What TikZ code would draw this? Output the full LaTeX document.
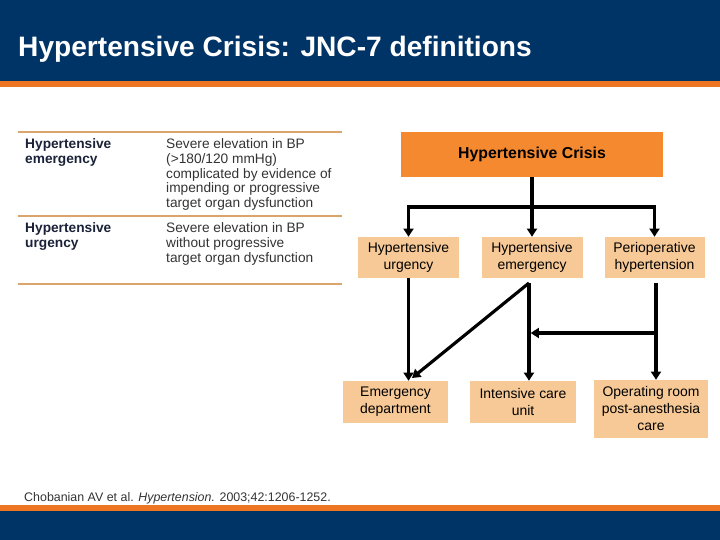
\documentclass[tikz,border=0pt]{standalone}
\usepackage{fontspec}
\setmainfont{Liberation Sans}
\usepackage{xcolor}
\definecolor{hdrblue}{HTML}{003366}
\definecolor{stripe}{HTML}{EE7623}
\definecolor{crisisorange}{HTML}{F5892F}
\definecolor{tan}{HTML}{F7C996}
\definecolor{rulecol}{HTML}{DBA46B}
\definecolor{bodytext}{HTML}{333333}
\definecolor{termtext}{HTML}{1A2238}
\usetikzlibrary{arrows.meta}

\begin{document}
\begin{tikzpicture}[
    x=0.03cm, y=-0.03cm,
    crisis/.style={fill=crisisorange, minimum width=7.86cm, minimum height=1.35cm, align=center, inner sep=0pt, font=\fontsize{13.5}{15}\selectfont\bfseries},
    site/.style={fill=tan, minimum height=1.23cm, align=center, inner sep=0pt, font=\fontsize{11.9}{14.5}\selectfont},
    term/.style={anchor=north west, inner sep=0pt, align=left, text=termtext, font=\fontsize{11.7}{12.75}\selectfont\bfseries},
    defn/.style={anchor=north west, inner sep=0pt, align=left, text=bodytext, font=\fontsize{11.7}{12.75}\selectfont},
    arr/.style={-{Triangle[width=8.5pt,length=7pt]}, line width=2.7pt},
    lnk/.style={line width=2.7pt},
    trule/.style={rulecol, line width=1.7pt}
]
\useasboundingbox (0,0) rectangle (720,540);

% Header and footer bands
\fill[hdrblue] (0,0) rectangle (720,81);
\fill[stripe] (0,81) rectangle (720,87);
\fill[stripe] (0,505) rectangle (720,511);
\fill[hdrblue] (0,511) rectangle (720,540);
\node[anchor=base west, inner sep=0pt, text=white, font=\fontsize{24}{28}\selectfont\bfseries] (title) at (18,57) {Hypertensive Crisis: JNC-7 definitions};

% Definitions table
\draw[trule] (18,132) -- (342,132);
\draw[trule] (18,216) -- (342,216);
\draw[trule] (18,284) -- (342,284);
\node[term] (t1) at (25,138) {Hypertensive\\emergency};
\node[defn] (d1) at (166,138) {Severe elevation in BP\\(>180/120 mmHg)\\complicated by evidence of\\impending or progressive\\target organ dysfunction};
\node[term] (t2) at (25,222) {Hypertensive\\urgency};
\node[defn] (d2) at (166,222) {Severe elevation in BP\\without progressive\\target organ dysfunction};

% Classification
\node[crisis] (crisis) at (532,154.5) {Hypertensive Crisis};
\node[site, minimum width=3.03cm] (urg) at (408.5,257.5) {Hypertensive\\urgency};
\node[site, minimum width=3.03cm] (emer) at (532,257.5) {Hypertensive\\emergency};
\node[site, minimum width=3.0cm] (peri) at (654.5,257.5) {Perioperative\\hypertension};

% Care settings
\node[site, minimum width=3.15cm, minimum height=1.26cm] (ed) at (395.5,402) {Emergency\\department};
\node[site, minimum width=3.18cm, minimum height=1.26cm] (icu) at (523,402) {Intensive care\\unit};
\node[site, minimum width=3.42cm, minimum height=1.74cm] (orc) at (651,409) {Operating room\\post-anesthesia\\care};

% Connectors
\coordinate (split) at (532,207);
\draw[lnk] (crisis.south) -- (split);
\draw[arr] (split) -| (urg.north);
\draw[arr] (split) -| (peri.north);
\draw[arr] (split) -- (emer.north);

\coordinate (emerout) at (529,283);
\coordinate (periout) at (656,283);
\coordinate (perimid) at (656,333);
\coordinate (edtip) at (412,378);
\draw[arr] (urg.south) -- (urg.south |- ed.north);
\draw[arr] (emerout) -- (edtip);
\draw[arr] (emerout) -- (emerout |- icu.north);
\draw[arr] (periout) -- (periout |- orc.north);
\draw[arr] (perimid) -- ([xshift=0.05cm]emerout |- perimid);

% Source
\node[anchor=base west, inner sep=0pt, text=bodytext, font=\fontsize{10.6}{12}\selectfont] (src) at (24,501) {Chobanian AV et al. \textit{Hypertension.} 2003;42:1206-1252.};
\end{tikzpicture}
\end{document}
